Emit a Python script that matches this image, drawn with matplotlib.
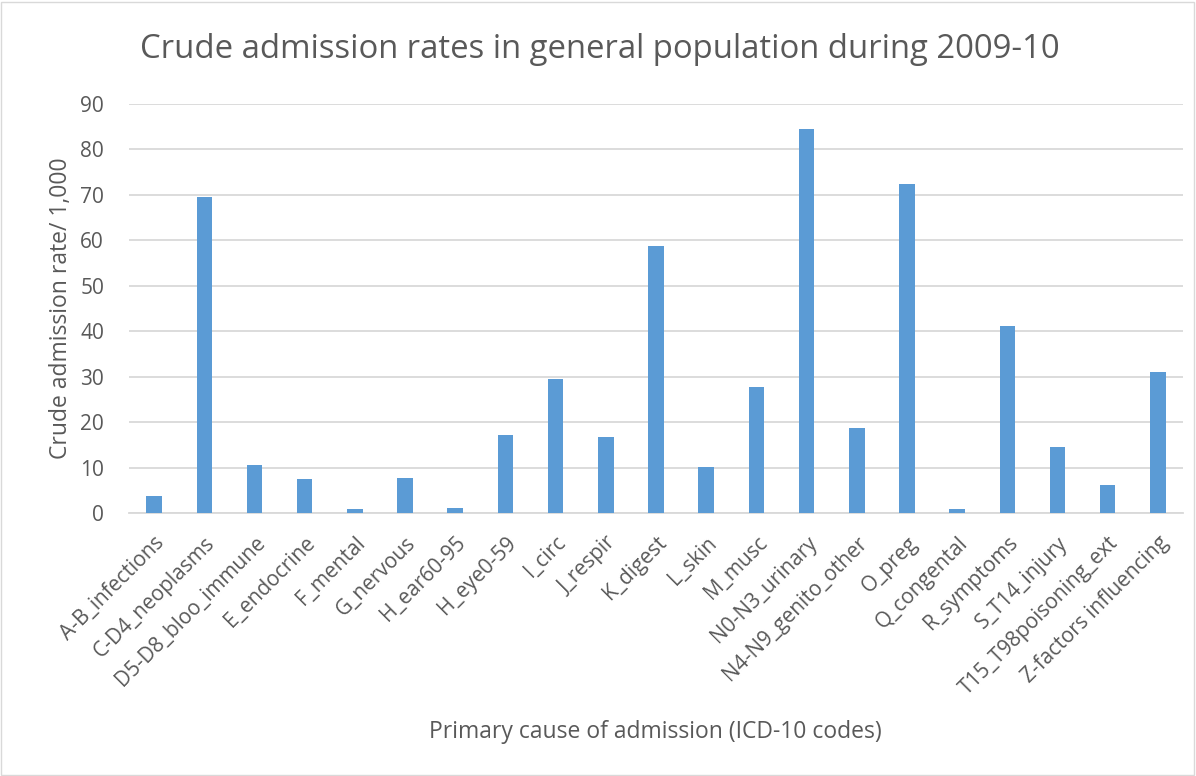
import matplotlib
matplotlib.use("Agg")
import matplotlib.pyplot as plt
from matplotlib.patches import Rectangle

categories = ["A-B_infections", "C-D4_neoplasms", "D5-D8_bloo_immune", "E_endocrine",
              "F_mental", "G_nervous", "H_ear60-95", "H_eye0-59", "I_circ", "J_respir",
              "K_digest", "L_skin", "M_musc", "N0-N3_urinary", "N4-N9_genito_other",
              "O_preg", "Q_congental", "R_symptoms", "S_T14_injury",
              "T15_T98poisoning_ext", "Z-factors influencing"]
values = [3.7, 69.6, 10.5, 7.5, 0.95, 7.8, 1.2, 17.1, 29.4, 16.7,
          58.8, 10.1, 27.7, 84.4, 18.6, 72.3, 0.95, 41.2, 14.5, 6.2, 31.0]
yticks = list(range(0, 91, 10))

plt.rcParams['font.family'] = ['Open Sans', 'DejaVu Sans']
txt = '#595959'
grid = '#d9d9d9'

W, H = 1196, 776
fig = plt.figure(figsize=(W/100, H/100), dpi=100)
ax = fig.add_axes([129/W, 1-513/H, (1183-129)/W, (513-104)/H])

x = list(range(len(categories)))
ax.bar(x, values, width=0.31, color='#5B9BD5', zorder=3)
ax.set_xlim(-0.5, len(categories)-0.5)
ax.set_ylim(0, 90)
ax.set_yticks(yticks)
ax.set_yticklabels([str(t) for t in yticks], fontsize=15, color=txt)
ax.set_xticks(x)
ax.set_xticklabels(categories, rotation=45, ha='right', rotation_mode='anchor',
                   fontsize=15, color=txt)
ax.tick_params(axis='both', length=0)
ax.tick_params(axis='y', pad=18)
ax.tick_params(axis='x', pad=14)
ax.grid(axis='y', color=grid, linewidth=1.3, zorder=0)
for s in ['top', 'right', 'left']:
    ax.spines[s].set_visible(False)
ax.spines['bottom'].set_color(grid)
ax.spines['bottom'].set_linewidth(1.3)

ax.set_ylabel("Crude admission rate/ 1,000", fontsize=16.5, color=txt)
ax.yaxis.set_label_coords(-56/(1183-129), 0.5)
fig.text(655/W, 1-732/H, "Primary cause of admission (ICD-10 codes)", fontsize=16.5,
         color=txt, ha='center', va='center')
fig.text(600/W, 1-50/H, "Crude admission rates in general population during 2009-10",
         fontsize=23.7, color=txt, ha='center', va='center')

fig.patches.append(Rectangle((1/W, 1/H), 1-3/W, 1-3/H, transform=fig.transFigure,
                             fill=False, edgecolor=grid, linewidth=1))
fig.savefig("out.png", dpi=100, facecolor='white')
